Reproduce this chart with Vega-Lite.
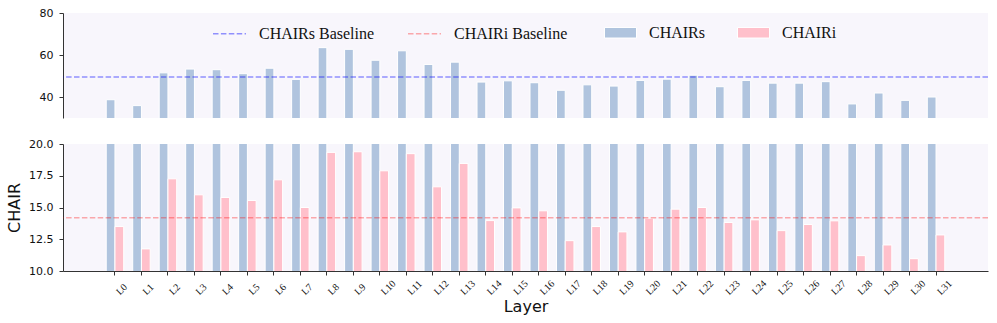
{
  "$schema": "https://vega.github.io/schema/vega-lite/v6.json",
  "padding": {"left": 6, "top": 7, "right": 5, "bottom": 0},
  "bounds": "flush",
  "spacing": 26,
  "background": "white",
  "datasets": {
    "bars": [
      {"layer": "L0", "series": "CHAIRs", "value": 38.7}, {"layer": "L0", "series": "CHAIRi", "value": 13.5},
      {"layer": "L1", "series": "CHAIRs", "value": 35.9}, {"layer": "L1", "series": "CHAIRi", "value": 11.74},
      {"layer": "L2", "series": "CHAIRs", "value": 51.5}, {"layer": "L2", "series": "CHAIRi", "value": 17.26},
      {"layer": "L3", "series": "CHAIRs", "value": 53.3}, {"layer": "L3", "series": "CHAIRi", "value": 16.0},
      {"layer": "L4", "series": "CHAIRs", "value": 53.0}, {"layer": "L4", "series": "CHAIRi", "value": 15.79},
      {"layer": "L5", "series": "CHAIRs", "value": 51.1}, {"layer": "L5", "series": "CHAIRi", "value": 15.55},
      {"layer": "L6", "series": "CHAIRs", "value": 53.7}, {"layer": "L6", "series": "CHAIRi", "value": 17.18},
      {"layer": "L7", "series": "CHAIRs", "value": 48.4}, {"layer": "L7", "series": "CHAIRi", "value": 15.0},
      {"layer": "L8", "series": "CHAIRs", "value": 63.5}, {"layer": "L8", "series": "CHAIRi", "value": 19.34},
      {"layer": "L9", "series": "CHAIRs", "value": 62.7}, {"layer": "L9", "series": "CHAIRi", "value": 19.39},
      {"layer": "L10", "series": "CHAIRs", "value": 57.5}, {"layer": "L10", "series": "CHAIRi", "value": 17.89},
      {"layer": "L11", "series": "CHAIRs", "value": 62.0}, {"layer": "L11", "series": "CHAIRi", "value": 19.24},
      {"layer": "L12", "series": "CHAIRs", "value": 55.5}, {"layer": "L12", "series": "CHAIRi", "value": 16.63},
      {"layer": "L13", "series": "CHAIRs", "value": 56.6}, {"layer": "L13", "series": "CHAIRi", "value": 18.47},
      {"layer": "L14", "series": "CHAIRs", "value": 47.1}, {"layer": "L14", "series": "CHAIRi", "value": 13.97},
      {"layer": "L15", "series": "CHAIRs", "value": 47.7}, {"layer": "L15", "series": "CHAIRi", "value": 14.97},
      {"layer": "L16", "series": "CHAIRs", "value": 46.8}, {"layer": "L16", "series": "CHAIRi", "value": 14.74},
      {"layer": "L17", "series": "CHAIRs", "value": 43.2}, {"layer": "L17", "series": "CHAIRi", "value": 12.39},
      {"layer": "L18", "series": "CHAIRs", "value": 45.8}, {"layer": "L18", "series": "CHAIRi", "value": 13.5},
      {"layer": "L19", "series": "CHAIRs", "value": 45.2}, {"layer": "L19", "series": "CHAIRi", "value": 13.08},
      {"layer": "L20", "series": "CHAIRs", "value": 47.9}, {"layer": "L20", "series": "CHAIRi", "value": 14.16},
      {"layer": "L21", "series": "CHAIRs", "value": 48.5}, {"layer": "L21", "series": "CHAIRi", "value": 14.87},
      {"layer": "L22", "series": "CHAIRs", "value": 50.4}, {"layer": "L22", "series": "CHAIRi", "value": 15.0},
      {"layer": "L23", "series": "CHAIRs", "value": 44.9}, {"layer": "L23", "series": "CHAIRi", "value": 13.82},
      {"layer": "L24", "series": "CHAIRs", "value": 47.9}, {"layer": "L24", "series": "CHAIRi", "value": 14.03},
      {"layer": "L25", "series": "CHAIRs", "value": 46.6}, {"layer": "L25", "series": "CHAIRi", "value": 13.18},
      {"layer": "L26", "series": "CHAIRs", "value": 46.6}, {"layer": "L26", "series": "CHAIRi", "value": 13.66},
      {"layer": "L27", "series": "CHAIRs", "value": 47.3}, {"layer": "L27", "series": "CHAIRi", "value": 13.95},
      {"layer": "L28", "series": "CHAIRs", "value": 36.7}, {"layer": "L28", "series": "CHAIRi", "value": 11.21},
      {"layer": "L29", "series": "CHAIRs", "value": 41.9}, {"layer": "L29", "series": "CHAIRi", "value": 12.05},
      {"layer": "L30", "series": "CHAIRs", "value": 38.4}, {"layer": "L30", "series": "CHAIRi", "value": 10.97},
      {"layer": "L31", "series": "CHAIRs", "value": 40.0}, {"layer": "L31", "series": "CHAIRi", "value": 12.84}
    ],
    "base": [
      {"name": "CHAIRs Baseline", "value": 49.5},
      {"name": "CHAIRi Baseline", "value": 14.2}
    ]
  },
  "config": {
    "view": {"fill": "#F8F6FC", "stroke": null},
    "axis": {
      "domainColor": "#333333", "tickColor": "#333333", "domainWidth": 1, "tickWidth": 1, "tickSize": 4,
      "labelFont": "DejaVu Sans", "labelFontSize": 11, "labelColor": "#111111", "labelPadding": 6,
      "labelOverlap": false,
      "titleFont": "DejaVu Sans", "titleFontSize": 16, "titleFontWeight": "normal", "titleColor": "#111111",
      "grid": false
    },
    "legend": {
      "labelFont": "Liberation Serif", "labelFontSize": 16, "labelColor": "#111111", "labelLimit": 300,
      "direction": "horizontal", "orient": "none", "title": null, "padding": 0
    }
  },
  "resolve": {
    "scale": {"x": "independent", "y": "independent", "fill": "independent", "stroke": "independent"},
    "legend": {"fill": "independent", "stroke": "independent"}
  },
  "vconcat": [
    {
      "width": 925,
      "height": 105,
      "layer": [
        {
          "data": {"name": "bars"},
          "mark": {"type": "bar", "clip": true, "stroke": "white", "strokeWidth": 1},
          "encoding": {
            "x": {"field": "layer", "type": "ordinal", "axis": null,
                  "scale": {"domain": [" ", "L0", "L1", "L2", "L3", "L4", "L5", "L6", "L7", "L8", "L9", "L10", "L11", "L12", "L13", "L14", "L15", "L16", "L17", "L18", "L19", "L20", "L21", "L22", "L23", "L24", "L25", "L26", "L27", "L28", "L29", "L30", "L31", "  "],
                            "paddingInner": 0.34, "paddingOuter": 0.632}},
            "xOffset": {"field": "series", "type": "nominal", "scale": {"domain": ["CHAIRs", "CHAIRi"]}},
            "y": {"field": "value", "type": "quantitative",
                  "scale": {"domain": [30, 80], "nice": false, "zero": false},
                  "axis": {"values": [40, 60, 80], "title": null}},
            "fill": {"field": "series", "type": "nominal",
                     "scale": {"domain": ["CHAIRs", "CHAIRi"], "range": ["#B0C4DE", "#FFC0CB"]},
                     "legend": {"legendX": 541, "legendY": 3, "symbolType": "M-1,-0.33H1V0.33H-1Z",
                                "symbolSize": 1024, "symbolStrokeColor": "white", "symbolStrokeWidth": 1,
                                "symbolOpacity": 1, "labelOffset": 12, "columnPadding": 29}}
          }
        },
        {
          "data": {"name": "base"},
          "mark": {"type": "rule", "clip": true, "strokeDash": [5.5, 2.4], "strokeWidth": 1.5},
          "encoding": {
            "y": {"field": "value", "type": "quantitative",
                  "axis": {"values": [40, 60, 80], "title": null}},
            "stroke": {"field": "name", "type": "nominal",
                       "scale": {"domain": ["CHAIRs Baseline", "CHAIRi Baseline"],
                                 "range": ["rgba(0,0,255,0.42)", "rgba(255,0,0,0.32)"]},
                       "legend": {"legendX": 149, "legendY": 3, "symbolType": "stroke", "symbolSize": 1089,
                                  "symbolDash": [5.5, 2.4], "symbolStrokeWidth": 1.5,
                                  "labelOffset": 12, "columnPadding": 30}}
          }
        }
      ]
    },
    {
      "width": 925,
      "height": 127,
      "layer": [
        {
          "data": {"name": "bars"},
          "mark": {"type": "bar", "clip": true, "stroke": "white", "strokeWidth": 1},
          "encoding": {
            "x": {"field": "layer", "type": "ordinal",
                  "scale": {"domain": [" ", "L0", "L1", "L2", "L3", "L4", "L5", "L6", "L7", "L8", "L9", "L10", "L11", "L12", "L13", "L14", "L15", "L16", "L17", "L18", "L19", "L20", "L21", "L22", "L23", "L24", "L25", "L26", "L27", "L28", "L29", "L30", "L31", "  "],
                            "paddingInner": 0.34, "paddingOuter": 0.632},
                  "axis": {"title": "Layer", "values": ["L0", "L1", "L2", "L3", "L4", "L5", "L6", "L7", "L8", "L9", "L10", "L11", "L12", "L13", "L14", "L15", "L16", "L17", "L18", "L19", "L20", "L21", "L22", "L23", "L24", "L25", "L26", "L27", "L28", "L29", "L30", "L31"],
                           "labelAngle": -45, "labelAlign": "left", "labelBaseline": "alphabetic",
                           "labelFont": "Liberation Serif", "labelFontSize": 10, "labelPadding": 20,
                           "labelOffset": 5, "titlePadding": 2}},
            "xOffset": {"field": "series", "type": "nominal", "scale": {"domain": ["CHAIRs", "CHAIRi"]}},
            "y": {"field": "value", "type": "quantitative",
                  "scale": {"domain": [10, 20], "nice": false, "zero": false},
                  "axis": {"values": [10, 12.5, 15, 17.5, 20], "format": ".1f", "title": "CHAIR", "titlePadding": 6}},
            "fill": {"field": "series", "type": "nominal",
                     "scale": {"domain": ["CHAIRs", "CHAIRi"], "range": ["#B0C4DE", "#FFC0CB"]},
                     "legend": null}
          }
        },
        {
          "data": {"name": "base"},
          "mark": {"type": "rule", "clip": true, "strokeDash": [5.5, 2.4], "strokeWidth": 1.5},
          "encoding": {
            "y": {"field": "value", "type": "quantitative",
                  "axis": {"values": [10, 12.5, 15, 17.5, 20], "format": ".1f", "title": "CHAIR", "titlePadding": 6}},
            "stroke": {"field": "name", "type": "nominal",
                       "scale": {"domain": ["CHAIRs Baseline", "CHAIRi Baseline"],
                                 "range": ["rgba(0,0,255,0.42)", "rgba(255,0,0,0.32)"]},
                       "legend": null}
          }
        }
      ]
    }
  ]
}
